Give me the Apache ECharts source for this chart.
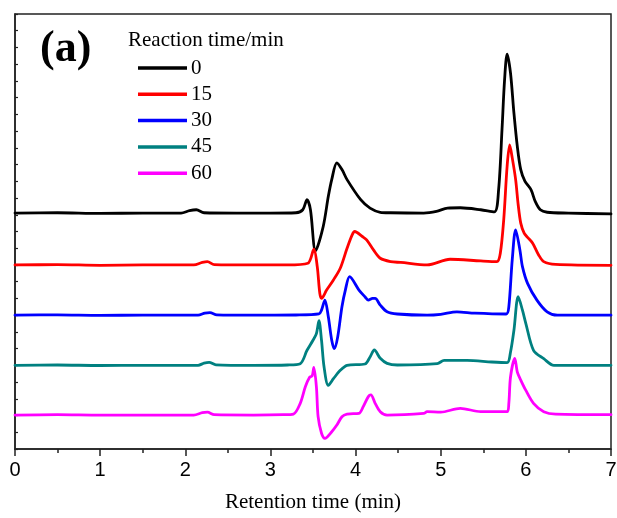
<!DOCTYPE html>
<html>
<head>
<meta charset="utf-8">
<script src="https://cdn.jsdelivr.net/npm/echarts@6/dist/echarts.min.js"></script>
<style>
html,body{margin:0;padding:0;background:#fff;}
#chart{width:617px;height:518px;}
</style>
</head>
<body>
<div id="chart"></div>
<script>
// Reaction time labels (legend)
var seriesNames = ['0', '15', '30', '45', '60'];
var seriesColors = ['#000000', '#ff0000', '#0000ff', '#008080', '#ff00ff'];
var xTicks = [0, 1, 2, 3, 4, 5, 6, 7];

// [retention time (min), stacked signal (arb. units)]
var curve0 = [[0,14.1],[0.5,14.12],[1.0,14.08],[1.5,14.1],[1.95,14.1],[2.05,14.25],[2.13,14.3],[2.22,14.12],[2.6,14.1],[3.0,14.1],[3.3,14.12],[3.38,14.3],[3.43,14.9],[3.47,14.3],[3.53,11.85],[3.62,13.3],[3.68,15.1],[3.72,16.1],[3.78,17.1],[3.84,16.7],[3.90,16.1],[4.06,14.9],[4.17,14.4],[4.29,14.15],[4.41,14.12],[4.8,14.1],[4.95,14.2],[5.08,14.4],[5.23,14.42],[5.47,14.3],[5.63,14.17],[5.68,15.5],[5.72,19.1],[5.75,22.06],[5.78,23.6],[5.82,22.46],[5.86,20.07],[5.90,18.07],[5.94,16.7],[5.99,16.0],[6.06,15.5],[6.11,14.8],[6.17,14.3],[6.25,14.15],[6.5,14.1],[7.0,14.05]];
var curve15 = [[0,11.0],[0.5,11.02],[1.0,10.98],[1.5,11.0],[2.1,11.0],[2.2,11.15],[2.26,11.2],[2.34,11.02],[2.8,11.0],[3.2,11.0],[3.44,11.1],[3.51,11.94],[3.55,10.9],[3.58,9.3],[3.60,9.0],[3.66,9.5],[3.74,10.1],[3.82,10.8],[3.90,12.0],[3.96,12.8],[3.99,13.0],[4.08,12.7],[4.13,12.5],[4.21,11.9],[4.29,11.4],[4.41,11.2],[4.53,11.15],[4.84,11.0],[5.11,11.34],[5.47,11.24],[5.66,11.2],[5.70,11.7],[5.74,13.7],[5.78,16.9],[5.81,18.17],[5.84,17.4],[5.88,16.1],[5.91,14.6],[5.94,13.5],[5.98,12.9],[6.02,12.65],[6.08,12.3],[6.15,11.6],[6.21,11.2],[6.35,11.03],[7.0,10.98]];
var curve30 = [[0,8.0],[0.5,8.02],[1.0,7.99],[1.5,8.0],[2.15,8.0],[2.23,8.12],[2.29,8.15],[2.37,8.02],[2.8,8.0],[3.3,8.01],[3.57,8.07],[3.60,8.3],[3.64,8.9],[3.68,7.9],[3.72,6.5],[3.75,6.0],[3.79,6.7],[3.84,8.5],[3.88,9.5],[3.93,10.3],[4.04,9.5],[4.11,9.1],[4.15,8.9],[4.20,9.0],[4.23,9.0],[4.29,8.6],[4.37,8.2],[4.49,8.07],[4.84,8.0],[5.0,8.05],[5.19,8.2],[5.4,8.12],[5.77,8.07],[5.80,8.5],[5.84,11.3],[5.88,13.1],[5.93,11.9],[5.96,10.9],[6.02,9.9],[6.13,8.9],[6.25,8.2],[6.37,8.0],[7.0,8.0]];
var curve45 = [[0,5.0],[0.5,5.02],[1.0,4.99],[1.5,5.0],[2.15,5.0],[2.22,5.13],[2.28,5.18],[2.36,5.03],[2.8,5.0],[3.2,5.02],[3.35,5.1],[3.43,5.9],[3.50,6.5],[3.54,6.9],[3.57,7.67],[3.60,6.5],[3.63,4.9],[3.68,3.8],[3.74,4.2],[3.82,4.7],[3.90,5.0],[4.11,5.08],[4.17,5.5],[4.22,5.92],[4.29,5.42],[4.37,5.12],[4.49,5.02],[4.96,5.1],[5.04,5.3],[5.31,5.3],[5.6,5.2],[5.78,5.16],[5.82,5.8],[5.86,7.1],[5.91,9.1],[5.96,8.3],[6.00,7.5],[6.09,5.9],[6.21,5.4],[6.33,5.0],[7.0,5.0]];
var curve60 = [[0,2.03],[0.5,2.05],[1.0,2.02],[1.5,2.03],[2.1,2.03],[2.2,2.17],[2.26,2.2],[2.34,2.05],[2.8,2.03],[3.15,2.05],[3.27,2.09],[3.35,2.73],[3.41,3.72],[3.46,4.29],[3.49,4.36],[3.51,4.88],[3.54,3.72],[3.56,1.93],[3.60,0.94],[3.64,0.64],[3.72,1.03],[3.78,1.43],[3.84,1.93],[3.90,2.09],[4.04,2.13],[4.09,2.53],[4.15,3.13],[4.18,3.23],[4.23,2.73],[4.29,2.23],[4.37,2.03],[4.8,2.13],[4.84,2.23],[5.0,2.2],[5.23,2.43],[5.47,2.23],[5.78,2.23],[5.80,2.73],[5.82,4.32],[5.87,5.42],[5.90,4.6],[5.94,4.12],[6.00,3.5],[6.09,2.73],[6.21,2.23],[6.35,2.08],[7.0,2.05]];
var curves = [curve0, curve15, curve30, curve45, curve60];

var chart = echarts.init(document.getElementById('chart'), null, {renderer: 'canvas'});
var axisColor = '#222';
var series = seriesNames.map(function (n, i) {
  return {
    name: n, type: 'line', data: curves[i], showSymbol: false, symbol: 'none',
    smooth: 0.3,
    lineStyle: {color: seriesColors[i], width: 2.8, join: 'round', cap: 'round'},
    itemStyle: {color: seriesColors[i]},
    z: 2 + i
  };
});

chart.setOption({
  animation: false,
  backgroundColor: '#fff',
  grid: {left: 15, right: 6, top: 14, bottom: 69, containLabel: false, outerBoundsMode: 'none', show: true, borderColor: axisColor, borderWidth: 1.5, backgroundColor: 'transparent'},
  xAxis: {
    type: 'value', min: xTicks[0], max: xTicks[xTicks.length - 1], interval: 1,
    axisLine: {show: true, onZero: false, lineStyle: {color: axisColor, width: 1.5}},
    axisTick: {show: true, inside: false, length: 7, lineStyle: {color: axisColor, width: 1.5}},
    minorTick: {show: true, splitNumber: 2, length: 4, lineStyle: {color: axisColor, width: 1.5}},
    splitLine: {show: false},
    axisLabel: {show: true, margin: 11, color: '#000', fontFamily: 'Liberation Sans', fontSize: 20},
    name: 'Retention time (min)', nameLocation: 'middle', nameGap: 43,
    nameTextStyle: {color: '#000', fontFamily: 'Liberation Serif', fontSize: 21}
  },
  yAxis: {
    type: 'value', min: 0, max: 26, interval: 1,
    axisLine: {show: true, onZero: false, lineStyle: {color: axisColor, width: 1.5}},
    axisTick: {show: true, inside: true, length: 3, lineStyle: {color: axisColor, width: 1.2}},
    axisLabel: {show: false},
    splitLine: {show: false}
  },
  legend: {
    data: seriesNames, orient: 'vertical', left: 138, top: 57.5,
    icon: 'rect', itemWidth: 49, itemHeight: 3.5, itemGap: 5.3,
    textStyle: {color: '#000', fontFamily: 'Liberation Serif', fontSize: 21, lineHeight: 21, padding: [0, 0, 0, -1]},
    padding: 0, selectedMode: false
  },
  graphic: [
    {type: 'text', left: 40, top: 28, style: {text: '(a)', font: 'bold 44px "Liberation Serif"', fill: '#000'}},
    {type: 'text', left: 128, top: 30, style: {text: 'Reaction time/min', font: '21px "Liberation Serif"', fill: '#000'}}
  ],
  series: series
});
</script>
</body>
</html>
